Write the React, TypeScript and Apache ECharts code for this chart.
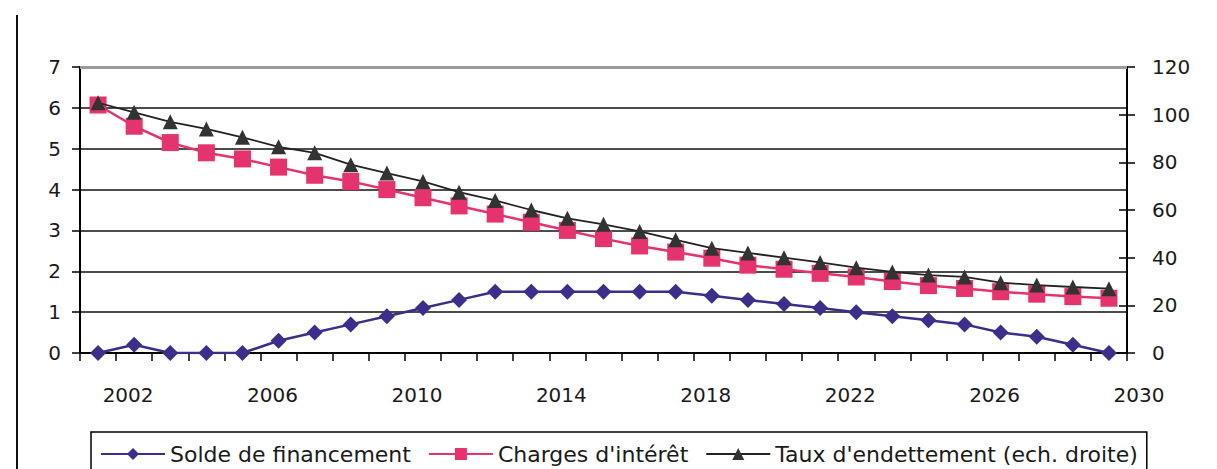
import React, { useEffect, useRef } from 'react';
import * as echarts from 'echarts';

const years = [
  '2001', '2002', '2003', '2004', '2005', '2006', '2007', '2008', '2009', '2010',
  '2011', '2012', '2013', '2014', '2015', '2016', '2017', '2018', '2019', '2020',
  '2021', '2022', '2023', '2024', '2025', '2026', '2027', '2028', '2029',
];

const tickLabels = ['2002', '2006', '2010', '2014', '2018', '2022', '2026', '2030'];

const solde = [
  0, 0.2, 0, 0, 0, 0.3, 0.5, 0.7, 0.9, 1.1,
  1.3, 1.5, 1.5, 1.5, 1.5, 1.5, 1.5, 1.4, 1.3, 1.2,
  1.1, 1.0, 0.9, 0.8, 0.7, 0.5, 0.4, 0.2, 0,
];

const charges = [
  6.07, 5.55, 5.15, 4.9, 4.75, 4.55, 4.35, 4.2, 4.0, 3.8,
  3.6, 3.4, 3.2, 3.0, 2.8, 2.62, 2.47, 2.32, 2.15, 2.05,
  1.95, 1.86, 1.75, 1.65, 1.58, 1.5, 1.44, 1.38, 1.34,
];

const taux = [
  105, 101, 97, 94, 90.5, 86.5, 84, 79, 75.5, 72,
  67.5, 64, 60, 56.5, 54, 51, 47.5, 44, 42, 40,
  38, 35.8, 34, 32.7, 31.9, 29.5, 28.5, 27.7, 27,
];

const leftTicks = [0, 7, 1];
const rightTicks = [0, 120, 20];

const FONT = 'DejaVu Sans';
const TEXT = '#1a1a1a';

export default function App() {
  const ref = useRef<HTMLDivElement>(null);

  useEffect(() => {
    const chart = echarts.init(ref.current!, null, { renderer: 'svg' });
    chart.setOption({
      animation: false,
      backgroundColor: '#ffffff',
      textStyle: { fontFamily: FONT, color: TEXT },
      grid: { left: 80, right: 90, top: 67, bottom: 116, containLabel: false },
      legend: {
        data: ['Solde de financement', "Charges d'intérêt", "Taux d'endettement (ech. droite)"],
        left: 91,
        top: 432,
        padding: [11, 9, 11, 9],
        itemWidth: 64,
        itemHeight: 15,
        itemGap: 17,
        borderColor: '#000',
        borderWidth: 1.5,
        backgroundColor: '#fff',
        textStyle: { fontFamily: FONT, fontSize: 22, color: TEXT },
      },
      graphic: [
        {
          type: 'line',
          shape: { x1: 17, y1: 15, x2: 17, y2: 469 },
          style: { stroke: '#111', lineWidth: 2 },
        },
      ],
      xAxis: [
        {
          type: 'category',
          data: years,
          position: 'bottom',
          boundaryGap: true,
          axisLine: { show: true, lineStyle: { color: '#000', width: 2 } },
          axisTick: { show: true, interval: 0, length: 8, inside: false, lineStyle: { color: '#000', width: 1.5 } },
          axisLabel: { show: false },
          splitLine: { show: false },
        },
        {
          type: 'value',
          position: 'bottom',
          min: 0,
          max: years.length,
          interval: 1,
          axisLine: { show: false },
          axisTick: { show: false },
          splitLine: { show: false },
          axisLabel: {
            show: true,
            margin: 32,
            fontSize: 20,
            fontFamily: FONT,
            color: TEXT,
            padding: [0, 0, 0, 24],
            showMinLabel: true,
            showMaxLabel: true,
            formatter: (v: number) => (v % 4 === 1 ? tickLabels[(v - 1) / 4] ?? '' : ''),
          },
        },
      ],
      yAxis: [
        {
          type: 'value',
          position: 'left',
          min: leftTicks[0],
          max: leftTicks[1],
          interval: leftTicks[2],
          axisLine: { show: true, lineStyle: { color: '#000', width: 2 } },
          axisTick: { show: true, length: 8, lineStyle: { color: '#000', width: 1.5 } },
          axisLabel: { margin: 19, fontSize: 20, fontFamily: FONT, color: TEXT },
          splitLine: { show: true, lineStyle: { color: '#111', width: 1.5 } },
        },
        {
          type: 'value',
          position: 'right',
          min: rightTicks[0],
          max: rightTicks[1],
          interval: rightTicks[2],
          axisLine: { show: true, lineStyle: { color: '#000', width: 2 } },
          axisTick: { show: true, length: 8, lineStyle: { color: '#000', width: 1.5 } },
          axisLabel: { margin: 25, fontSize: 20, fontFamily: FONT, color: TEXT },
          splitLine: { show: false },
        },
        {
          type: 'value',
          position: 'right',
          min: rightTicks[0],
          max: rightTicks[1],
          interval: rightTicks[2],
          axisLine: { show: false },
          axisTick: { show: true, inside: true, length: 8, lineStyle: { color: '#000', width: 1.5 } },
          axisLabel: { show: false },
          splitLine: { show: false },
        },
      ],
      series: [
        {
          name: 'Solde de financement',
          type: 'line',
          xAxisIndex: 0,
          yAxisIndex: 0,
          data: solde,
          symbol: 'diamond',
          symbolSize: 16,
          itemStyle: { color: '#3b2e8c' },
          lineStyle: { color: '#3b2e8c', width: 2.5 },
          markLine: {
            silent: true,
            symbol: 'none',
            label: { show: false },
            data: [{ yAxis: leftTicks[1], lineStyle: { color: '#9a9a9a', width: 3, type: 'solid' } }],
          },
          z: 3,
        },
        {
          name: "Charges d'intérêt",
          type: 'line',
          xAxisIndex: 0,
          yAxisIndex: 0,
          data: charges,
          symbol: 'rect',
          symbolSize: 17,
          itemStyle: { color: '#e6336e' },
          lineStyle: { color: '#e6336e', width: 2.5 },
          z: 4,
        },
        {
          name: "Taux d'endettement (ech. droite)",
          type: 'line',
          xAxisIndex: 0,
          yAxisIndex: 1,
          data: taux,
          symbol: 'triangle',
          symbolSize: 15,
          itemStyle: { color: '#333333' },
          lineStyle: { color: '#222222', width: 1.8 },
          z: 5,
        },
      ],
    });
    return () => chart.dispose();
  }, []);

  return (
    <div
      ref={ref}
      style={{ position: 'absolute', left: 0, top: 0, width: 1217, height: 469 }}
    />
  );
}
